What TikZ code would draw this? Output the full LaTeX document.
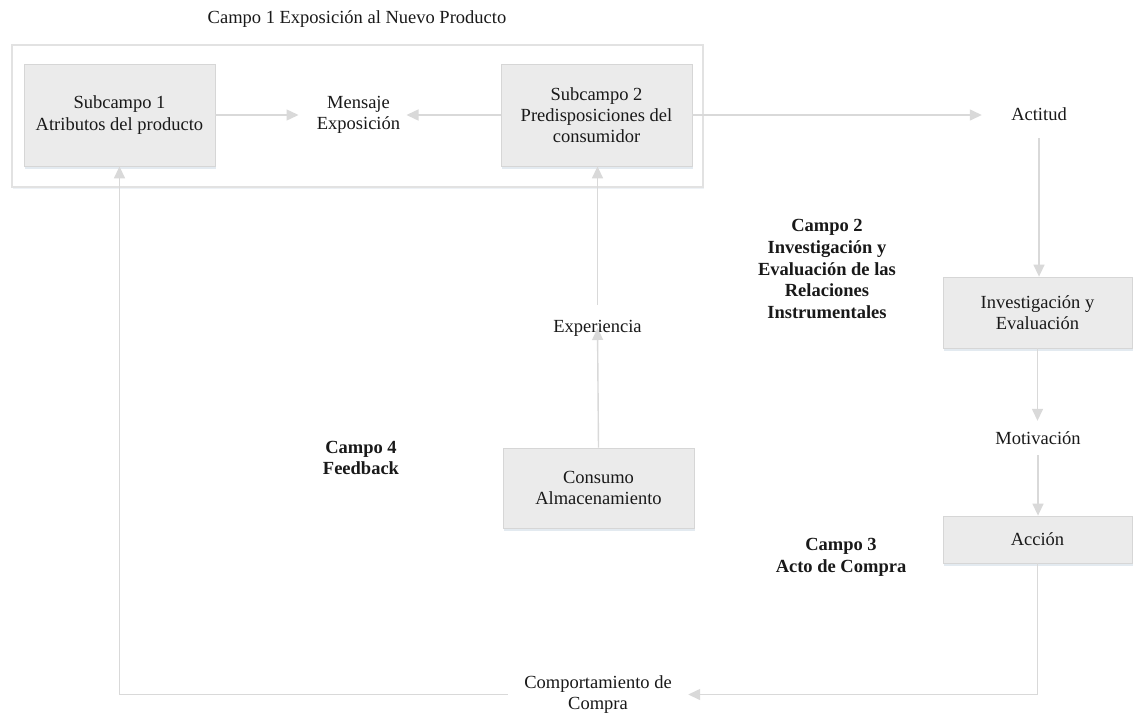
\documentclass[tikz,border=0pt]{standalone}
\usepackage{fontspec}
\setmainfont{Liberation Serif}
\usetikzlibrary{arrows.meta,shadows}
\definecolor{linegray}{HTML}{D9D9D9}
\definecolor{boxfill}{HTML}{EBEBEB}
\definecolor{boxline}{HTML}{D6D6D6}
\definecolor{framegray}{HTML}{E2E2E2}
\definecolor{shadowblue}{HTML}{C9D6E3}
\begin{document}
\begin{tikzpicture}[x=1pt,y=-1pt,
  txt/.style={font=\fontsize{18.5}{21.3}\selectfont, align=center, inner sep=0pt, text=black!90},
  btxt/.style={txt, font=\fontsize{18.5}{21.7}\selectfont\bfseries},
  gbox/.style={txt, draw=boxline, line width=0.8pt, fill=boxfill,
    drop shadow={shadow xshift=0.5pt, shadow yshift=-2.5pt, fill=shadowblue, opacity=0.5}},
  framebox/.style={draw=framegray, line width=1.2pt, fill=white,
    drop shadow={shadow xshift=0.5pt, shadow yshift=-2pt, fill=shadowblue, opacity=0.3}},
  arr/.style={draw=linegray, line width=1.4pt, -{Triangle[length=12pt,width=11pt]}}
]
\fill[white] (0,0) rectangle (1133,716);
\useasboundingbox (0,0) rectangle (1133,716);

% container
\node[framebox, minimum width=691pt, minimum height=142pt] (campo1) at (357.5,116) {};

% labels
\node[txt] (t1) at (357,19.5) {Campo 1 Exposición al Nuevo Producto};
\node[btxt] (c2) at (827,269) {Campo 2\\Investigación y\\Evaluación de las\\Relaciones\\Instrumentales};
\node[btxt] (c4) at (361,458) {Campo 4\\Feedback};
\node[btxt] (c3) at (841,557) {Campo 3\\Acto de Compra};

% boxes
\node[gbox, minimum width=191pt, minimum height=102pt] (sub1) at (119.5,115) {Subcampo 1\\Atributos del producto};
\node[gbox, minimum width=191pt, minimum height=102pt] (sub2) at (596.5,115) {Subcampo 2\\Predisposiciones del\\consumidor};
\node[gbox, minimum width=189pt, minimum height=71pt] (inv) at (1037.5,312.5) {Investigación y\\Evaluación};
\node[gbox, minimum width=189pt, minimum height=47pt] (accion) at (1037.5,539.5) {Acción};
\node[gbox, minimum width=191pt, minimum height=80pt] (consumo) at (598.5,488) {Consumo\\Almacenamiento};

% plain texts
\node[txt] (mensaje) at (358.5,115) {Mensaje\\Exposición};
\node[txt, minimum width=114pt, minimum height=48pt] (actitud) at (1039,114) {Actitud};
\node[txt, minimum height=34pt] (motiv) at (1038,438) {Motivación};
\node[txt, minimum height=46pt] (exper) at (597.5,328) {Experiencia};
\node[txt, minimum width=180pt] (comport) at (598,694.5) {Comportamiento de\\Compra};

% connectors
\draw[arr, shorten >=60pt] (sub1.east) -- (mensaje.center);
\draw[arr, shorten >=48pt] (sub2.west) -- (mensaje.center);
\draw[arr] (sub2.east) -- (sub2.east -| actitud.west);
\draw[arr] (actitud.south) -- (actitud.south |- inv.north);
\draw[arr] (inv.south) -- (inv.south |- motiv.north);
\draw[arr] (motiv.south) -- (motiv.south |- accion.north);
\draw[arr] (accion.south) |- (comport.east);
\draw[arr] (comport.west) -| (sub1.south);
\draw[arr] (consumo.north) -- (exper.center);
\draw[arr] (exper.north) -- (exper.north |- sub2.south);
\end{tikzpicture}
\end{document}
